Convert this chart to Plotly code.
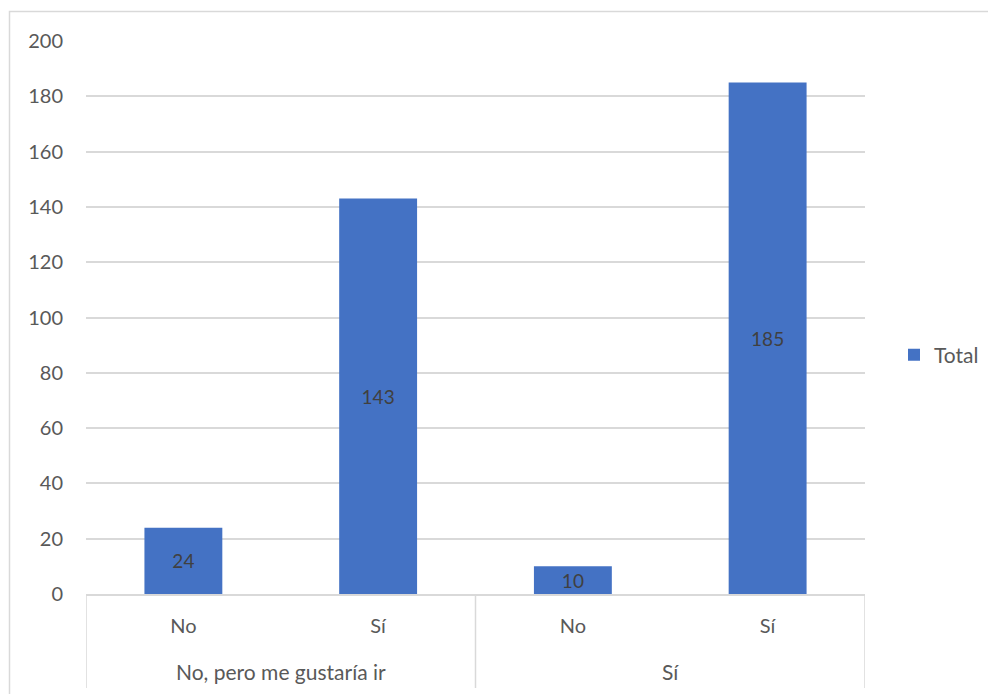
import plotly.graph_objects as go

# Survey answers grouped by the first question, split by the second
groups = ["No, pero me gustaría ir", "Sí"]
answers = ["No", "Sí", "No", "Sí"]
totals = [24, 143, 10, 185]
y_ticks = [0, 20, 40, 60, 80, 100, 120, 140, 160, 180, 200]

W, H = 988, 694
L, R, T, B = 86, 123, 41, 100
pw, ph = W - L - R, H - T - B

BAR = "#4472C4"
GRID = "#D9D9D9"
TXT = "#595959"
FONT = "Lato, Carlito, Calibri, sans-serif"

positions = list(range(len(answers)))
per_group = len(answers) // len(groups)

fig = go.Figure()
fig.add_trace(go.Bar(
    x=positions,
    y=totals,
    name="Total",
    marker=dict(color=BAR, line=dict(width=0)),
    text=[str(v) for v in totals],
    textposition="inside",
    insidetextanchor="middle",
    textangle=0,
    textfont=dict(color="#404040", size=19, family=FONT),
    cliponaxis=False,
))


def px_x(p):
    return (p - L) / pw


def px_y(p):
    return (H - B - p) / ph


shapes = [
    dict(type="rect", xref="paper", yref="paper",
         x0=px_x(9.5), x1=px_x(W + 5), y0=px_y(H + 5), y1=px_y(11.5),
         line=dict(color=GRID, width=1.5), fillcolor="rgba(0,0,0,0)",
         layer="below"),
]
# vertical separators between category groups, below the axis
for k in range(len(groups) + 1):
    xb = k * per_group - 0.5
    shapes.append(dict(type="line", xref="x", yref="paper",
                       x0=xb, x1=xb, y0=0, y1=px_y(688),
                       line=dict(color=GRID, width=1.5)))

annotations = []
for k, g in enumerate(groups):
    xc = k * per_group + (per_group - 1) / 2
    annotations.append(dict(x=xc, xref="x", y=px_y(671), yref="paper",
                            text=g, showarrow=False,
                            xanchor="center", yanchor="middle",
                            font=dict(size=21, color=TXT, family=FONT)))

fig.update_layout(
    width=W, height=H,
    margin=dict(l=L, r=R, t=T, b=B, autoexpand=False),
    paper_bgcolor="white",
    plot_bgcolor="white",
    font=dict(family=FONT, color=TXT, size=19),
    bargap=0.6,
    uniformtext=dict(minsize=19, mode="show"),
    showlegend=True,
    legend=dict(
        x=px_x(894), y=px_y(355), xanchor="left", yanchor="middle",
        font=dict(size=21, color=TXT, family=FONT),
        itemwidth=30,
    ),
    shapes=shapes,
    annotations=annotations,
)

fig.update_yaxes(
    range=[0, 200],
    tickvals=y_ticks,
    showgrid=True, gridcolor=GRID, gridwidth=1.5,
    zeroline=False, showline=False,
    ticks="", ticklabelstandoff=22,
    tickfont=dict(size=20, color=TXT, family=FONT),
)
fig.update_xaxes(
    range=[-0.5, len(answers) - 0.5],
    tickvals=positions, ticktext=answers,
    showline=True, linecolor=GRID, linewidth=1.5,
    ticks="", showgrid=False, zeroline=False,
    ticklabelstandoff=13,
    tickfont=dict(size=20, color=TXT, family=FONT),
)

fig.write_html("out.html")
